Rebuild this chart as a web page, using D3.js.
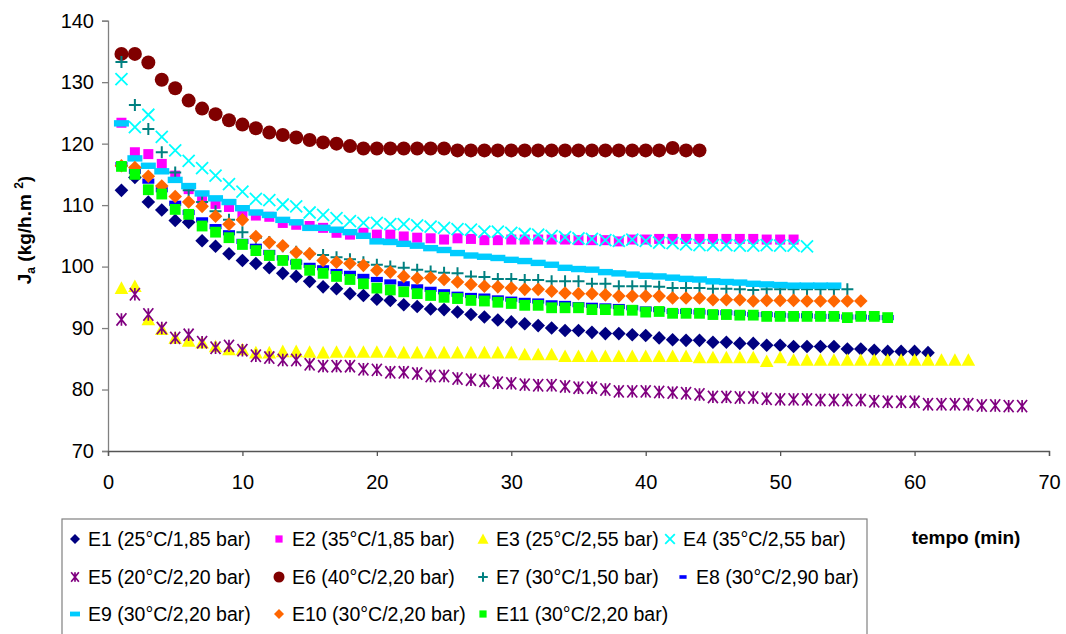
<!DOCTYPE html>
<html><head><meta charset="utf-8">
<script src="https://cdn.jsdelivr.net/npm/d3@7"></script>
<style>
html,body{margin:0;padding:0;background:#fff;}
svg{display:block;font-family:"Liberation Sans",Arial,sans-serif;}
</style></head>
<body><svg id="chart" width="1066" height="634"></svg>
<script>
// time (min) of each reading
const minutes = [1,2,3,4,5,6,7,8,9,10,11,12,13,14,15,16,17,18,19,20,21,22,23,24,25,26,27,28,29,30,31,32,33,34,35,36,37,38,39,40,41,42,43,44,45,46,47,48,49,50,51,52,53,54,55,56,57,58,59,60,61,62,63,64,65,66,67,68];

const E1 = [112.4,114.5,110.5,109.2,107.5,107.2,104.2,103.3,102.1,101.0,100.5,99.8,98.9,98.4,97.6,96.7,96.4,95.6,95.3,94.7,94.5,93.8,93.5,93.1,93.0,92.6,92.2,91.8,91.3,91.0,90.7,90.4,90.0,89.6,89.6,89.3,89.1,89.1,88.9,88.8,88.4,88.1,88.0,88.0,87.7,87.7,87.5,87.5,87.2,87.2,87.0,87.0,87.0,87.0,86.6,86.6,86.4,86.2,86.2,86.2,86.0];
const E2 = [123.4,118.6,118.3,116.7,114.8,112.6,111.0,110.2,109.7,108.5,108.3,108.1,107.1,106.8,106.6,106.3,105.5,105.2,105.5,105.2,105.2,104.9,104.7,104.6,104.4,104.6,104.5,104.3,104.3,104.4,104.4,104.4,104.4,104.4,104.3,104.3,104.3,104.1,104.4,104.4,104.5,104.5,104.5,104.5,104.5,104.5,104.5,104.5,104.4,104.4,104.4];
const E3 = [96.5,96.8,91.4,89.8,88.4,87.9,87.6,87.0,86.5,86.5,86.0,86.0,86.2,86.2,86.1,86.0,86.1,86.1,86.1,86.1,86.1,86.0,86.0,86.0,86.0,86.0,86.0,86.0,86.0,86.0,85.7,85.7,85.7,85.4,85.4,85.4,85.4,85.4,85.4,85.4,85.4,85.4,85.4,85.2,85.2,85.2,85.2,85.2,84.6,85.2,84.8,84.8,84.8,84.8,84.8,84.8,84.8,84.8,84.8,84.8,84.8,84.8,84.8,84.8];
const E4 = [130.5,122.7,124.7,121.1,118.9,117.2,116.0,114.8,113.4,112.2,111.0,110.8,110.1,109.8,108.8,108.4,107.9,107.4,107.1,107.1,106.9,106.9,106.7,106.5,106.3,106.1,106.0,105.7,105.7,105.5,105.3,105.2,105.0,104.8,104.6,104.5,104.3,104.2,104.4,104.2,103.9,103.8,103.6,103.5,103.5,103.5,103.4,103.4,103.5,103.4,103.4,103.3];
const E5 = [91.4,95.5,92.2,90.0,88.4,88.9,87.7,86.8,87.1,86.4,85.5,85.2,84.8,84.8,84.1,83.8,83.8,83.8,83.3,83.2,82.8,82.8,82.6,82.2,82.2,81.8,81.6,81.4,81.1,81.0,80.8,80.7,80.7,80.5,80.3,80.3,80.0,79.7,79.7,79.7,79.6,79.5,79.4,79.2,78.8,78.8,78.7,78.7,78.5,78.4,78.4,78.4,78.3,78.3,78.3,78.3,78.1,78.0,78.0,78.0,77.6,77.6,77.6,77.6,77.4,77.4,77.3,77.3];
const E6 = [134.6,134.6,133.2,130.4,129.0,127.0,125.7,124.8,123.8,123.1,122.5,121.8,121.4,121.0,120.6,120.2,120.0,119.6,119.2,119.2,119.2,119.2,119.2,119.2,119.2,118.9,118.9,118.9,118.9,118.9,118.9,118.9,118.9,118.9,118.9,118.9,118.9,118.9,118.9,118.9,118.9,119.3,118.9,118.9];
const E7 = [133.3,126.3,122.4,118.6,115.3,112.4,110.5,109.0,107.6,105.6,104.7,104.0,103.3,102.4,102.1,101.9,101.5,101.2,100.7,100.3,100.0,99.8,99.5,99.2,99.0,98.9,98.4,98.3,98.0,98.0,97.8,97.8,97.6,97.6,97.6,97.2,97.2,96.8,96.8,96.8,96.7,96.5,96.5,96.5,96.4,96.4,96.3,96.2,96.3,96.3,96.3,96.3,96.3,96.3,96.3];
const E8 = [116.6,115.5,113.9,112.5,110.3,108.8,107.6,106.5,105.5,104.1,103.3,102.3,101.4,100.7,100.2,99.8,99.2,98.9,98.4,97.9,97.5,97.2,96.7,96.3,95.9,95.5,95.3,95.2,94.9,94.7,94.5,94.4,94.1,94.0,93.8,93.7,93.6,93.5,93.3,93.1,93.0,92.7,92.7,92.6,92.5,92.5,92.4,92.2,92.2,92.1,92.0,92.0,91.9,91.9,91.8,91.8,91.7,91.7];
const E9 = [123.3,117.6,116.4,115.5,114.1,113.1,111.9,111.1,110.5,109.5,108.8,108.4,107.6,107.2,106.3,106.3,106.0,105.6,105.0,104.1,104.0,103.7,103.4,103.0,102.7,102.2,101.8,101.6,101.4,101.1,100.9,100.6,100.3,99.8,99.6,99.5,99.1,98.9,98.7,98.5,98.4,98.2,98.0,97.9,97.6,97.5,97.4,97.2,97.1,97.0,96.9,96.9,96.9,96.9];
const E10 = [116.4,116.1,114.7,113.1,111.4,110.5,109.8,108.2,106.9,107.6,104.9,103.9,103.4,102.3,102.1,101.0,100.7,100.5,100.2,99.4,99.1,98.4,98.1,98.2,97.9,97.5,97.1,96.8,96.7,96.5,96.3,96.3,96.0,95.7,95.6,95.6,95.4,95.2,95.2,95.2,95.2,94.9,94.9,94.9,94.6,94.6,94.6,94.4,94.5,94.5,94.5,94.4,94.4,94.4,94.4,94.4];
const E11 = [116.3,115.0,112.5,111.8,109.3,108.5,106.6,105.6,104.7,103.6,102.6,101.8,101.0,100.4,99.4,98.9,98.4,97.9,97.2,96.5,96.2,95.9,95.6,95.3,95.0,94.8,94.5,94.4,94.2,94.0,93.7,93.7,93.3,93.3,93.3,93.0,93.0,92.9,92.9,92.6,92.7,92.4,92.4,92.4,92.2,92.2,92.1,92.1,91.9,91.9,91.9,91.9,91.9,91.9,91.7,91.9,91.9,91.7];

const seriesNames = ["E1 (25°C/1,85 bar)","E2 (35°C/1,85 bar)","E3 (25°C/2,55 bar)","E4 (35°C/2,55 bar)","E5 (20°C/2,20 bar)","E6 (40°C/2,20 bar)","E7 (30°C/1,50 bar)","E8 (30°C/2,90 bar)","E9 (30°C/2,20 bar)","E10 (30°C/2,20 bar)","E11 (30°C/2,20 bar)"];
const seriesValues = [E1,E2,E3,E4,E5,E6,E7,E8,E9,E10,E11];
const xTicks = [0,10,20,30,40,50,60,70];
const yTicks = [70,80,90,100,110,120,130,140];

// styles (not data)
const colors = ["#000080","#FF00FF","#FFFF00","#00FFFF","#800080","#800000","#008080","#0000FF","#00CCFF","#FF6600","#00FF00"];
const shapes = ["diamond","square","triangle","cross","asterisk","circle","plus","dashS","dashL","diamond","square"];
const plotSize = [6.8,5,6.8,6,6.2,7,6,[6,2.6],[7.5,3.2],6.8,5.4];
const legSize  = [5,3.6,5.5,4.8,4.8,5.5,4.8,[3.6,1.8],[5,2.4],5,3.6];
const legX = [75,279,483,670,75,279,483,683,75,279,483];
const legRow = [0,0,0,0,1,1,1,1,2,2,2];

const svg = d3.select("#chart");
const x = d3.scaleLinear().domain([0,70]).range([108,1049]);
const y = d3.scaleLinear().domain([70,140]).range([451,20.7]);

function drawMarker(g, shape, color, s){
  if(shape==="diamond"){
    g.append("path").attr("d",`M0,${-s}L${s},0L0,${s}L${-s},0Z`).attr("fill",color);
  } else if(shape==="square"){
    g.append("rect").attr("x",-s).attr("y",-s).attr("width",2*s).attr("height",2*s).attr("fill",color);
  } else if(shape==="triangle"){
    g.append("path").attr("d",`M0,${-s}L${s},${s*0.85}L${-s},${s*0.85}Z`).attr("fill",color);
  } else if(shape==="circle"){
    g.append("circle").attr("r",s).attr("fill",color);
  } else if(shape==="cross"){
    g.append("path").attr("d",`M${-s},${-s}L${s},${s}M${-s},${s}L${s},${-s}`).attr("stroke",color).attr("stroke-width",1.8).attr("fill","none");
  } else if(shape==="asterisk"){
    g.append("path").attr("d",`M${-s*0.8},${-s}L${s*0.8},${s}M${-s*0.8},${s}L${s*0.8},${-s}M0,${-s}L0,${s}`).attr("stroke",color).attr("stroke-width",1.7).attr("fill","none");
  } else if(shape==="plus"){
    g.append("path").attr("d",`M${-s},0L${s},0M0,${-s}L0,${s}`).attr("stroke",color).attr("stroke-width",2).attr("fill","none");
  } else if(shape==="dashS"||shape==="dashL"){
    g.append("rect").attr("x",-s[0]).attr("y",-s[1]).attr("width",2*s[0]).attr("height",2*s[1]).attr("fill",color);
  }
}

// axes
const yAxis = d3.axisLeft(y).tickValues(yTicks).tickSize(6).tickPadding(8);
const gy = svg.append("g").attr("transform",`translate(${x(0)},0)`).call(yAxis);
gy.select(".domain").attr("stroke","#808080").attr("stroke-width",1.3);
gy.selectAll(".tick line").attr("stroke","#808080").attr("stroke-width",1.3);
gy.selectAll(".tick text").attr("font-size",20).attr("fill","#000").attr("font-family","Liberation Sans, Arial, sans-serif");

const xAxis = d3.axisBottom(x).tickValues(xTicks).tickSize(5).tickPadding(19);
const gx = svg.append("g").attr("transform",`translate(0,${y(70)})`).call(xAxis);
gx.select(".domain").attr("stroke","#555").attr("stroke-width",1.3);
gx.selectAll(".tick line").attr("stroke","#555").attr("stroke-width",1.3);
gx.selectAll(".tick text").attr("font-size",20).attr("fill","#000").attr("font-family","Liberation Sans, Arial, sans-serif");

// series
seriesValues.forEach((vals,i)=>{
  const g = svg.append("g");
  vals.forEach((v,j)=>{
    const m = g.append("g").attr("transform",`translate(${x(minutes[j])},${y(v)})`);
    drawMarker(m, shapes[i], colors[i], plotSize[i]);
  });
});

// y label
const yl = svg.append("text").attr("transform","translate(31,230) rotate(-90)")
  .attr("text-anchor","middle").attr("font-weight","bold").attr("font-size",19);
yl.append("tspan").text("J");
yl.append("tspan").attr("font-size",12).attr("dy",4).text("a");
yl.append("tspan").attr("dy",-4).text(" (kg/h.m ");
yl.append("tspan").attr("font-size",12).attr("dy",-8).text("2");
yl.append("tspan").attr("dy",8).text(")");

// x label
svg.append("text").attr("x",966).attr("y",544).attr("text-anchor","middle")
  .attr("font-weight","bold").attr("font-size",19).text("tempo (min)");

// legend
svg.append("rect").attr("x",62).attr("y",519).attr("width",805).attr("height",130)
  .attr("fill","#fff").attr("stroke","#808080").attr("stroke-width",1.2);
const rowY = [539,577,614];
seriesNames.forEach((name,i)=>{
  const cy = rowY[legRow[i]];
  const m = svg.append("g").attr("transform",`translate(${legX[i]},${cy})`);
  drawMarker(m, shapes[i], colors[i], legSize[i]);
  svg.append("text").attr("x",legX[i]+13).attr("y",cy+7).attr("font-size",19.5).attr("fill","#000").text(name);
});
</script></body></html>
